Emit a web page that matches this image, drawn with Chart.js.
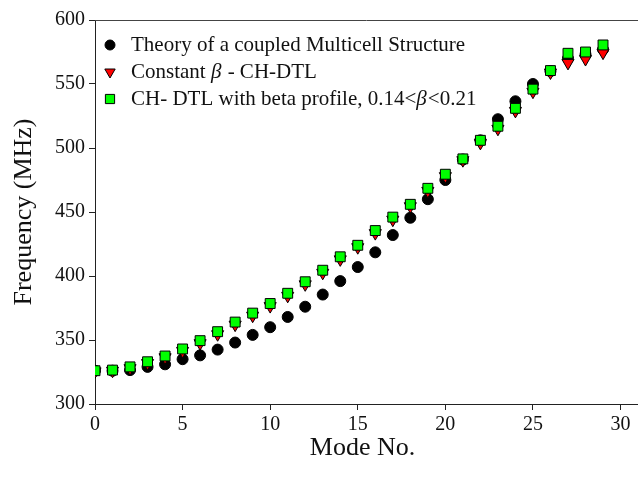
<!DOCTYPE html>
<html>
<head>
<meta charset="utf-8">
<script src="https://cdn.jsdelivr.net/npm/chart.js@4/dist/chart.umd.min.js"></script>
<style>
  html, body { margin: 0; padding: 0; background: #fff; overflow: hidden; }
  canvas { display: block; }
</style>
</head>
<body>
<canvas id="freqChart" width="638" height="483"></canvas>
<script>
// Mode numbers
const modes = [0,1,2,3,4,5,6,7,8,9,10,11,12,13,14,15,16,17,18,19,20,21,22,23,24,25,26,27,28,29];
const xTickValues = [0, 5, 10, 15, 20, 25, 30];

// Theory of a coupled multicell structure (black circles)
const theory = [326,326,326.5,329,331,335,338,342.5,348,354,360,368,376,385.5,396,407,418.5,432,445.5,460,475,491,506,522.5,536.5,550,560,570,573,577];

// Constant beta CH-DTL (red triangles)
const constBeta = [325.5,326,328,332,336.5,341.5,347.5,354.5,362,369,376.5,384.5,393.5,402.5,413,422.5,433.5,444,454.5,466.5,478,490.5,504,515,529,544,559,566.5,569.5,574.5];

// CH-DTL with beta profile (green squares)
const betaProfile = [326,326.5,329,333,337.5,343,349.5,356.5,364,371,378.5,386.5,395.5,404.5,415,424,435.5,446,456,468.5,479.5,491.5,506,517,531,546,560.5,574,575,580.5];

const seriesLabels = [
    'Theory of a coupled Multicell Structure',
    'Constant \u03b2 - CH-DTL',
    'CH- DTL with beta profile, 0.14<\u03b2<0.21'
];

const serif = '"Liberation Serif", "Times New Roman", serif';

function toPoints(vals) {
    return modes.map((m, i) => ({ x: m, y: vals[i] }));
}

// legend drawn inside the plot, plus the frame lines running to the edge
const innerLegend = {
    id: 'innerLegend',
    afterDatasetsDraw(chart) {
        const ctx = chart.ctx;
        const area = chart.chartArea;
        ctx.save();
        ctx.lineWidth = 1;
        ctx.strokeStyle = '#444';
        ctx.beginPath();
        ctx.moveTo(area.left, area.top + 0.5);
        ctx.lineTo(chart.width, area.top + 0.5);
        ctx.stroke();
        ctx.strokeStyle = '#222';
        ctx.beginPath();
        ctx.moveTo(area.right - 1, Math.round(area.bottom) + 0.5);
        ctx.lineTo(chart.width, Math.round(area.bottom) + 0.5);
        ctx.stroke();

        const rows = [45, 72, 99];
        chart.data.datasets.forEach((ds, i) => {
            const y = rows[i];
            ctx.fillStyle = ds.pointBackgroundColor;
            ctx.strokeStyle = ds.pointBorderColor;
            ctx.lineWidth = 1;
            Chart.helpers.drawPoint(ctx, {
                pointStyle: ds.pointStyle,
                radius: ds.legendRadius,
                rotation: ds.pointRotation || 0,
                borderWidth: 1
            }, 110, y);

            // text, with beta in italics
            let x = 131;
            ctx.fillStyle = '#111';
            ctx.textBaseline = 'middle';
            ctx.textAlign = 'left';
            const parts = ds.label.split('\u03b2');
            parts.forEach((p, k) => {
                ctx.font = '21px ' + serif;
                ctx.fillText(p, x, y);
                x += ctx.measureText(p).width;
                if (k < parts.length - 1) {
                    ctx.font = 'italic 21px ' + serif;
                    ctx.fillText('\u03b2', x, y);
                    x += ctx.measureText('\u03b2').width + 1;
                }
            });
        });
        ctx.restore();
    }
};

const ctx = document.getElementById('freqChart');
new Chart(ctx, {
    type: 'scatter',
    data: {
        datasets: [{
            label: seriesLabels[0],
            data: toPoints(theory),
            pointStyle: 'circle',
            pointRadius: 5.5,
            legendRadius: 5,
            pointBackgroundColor: '#000',
            pointBorderColor: '#000',
            pointBorderWidth: 1,
            order: 3
        }, {
            label: seriesLabels[1],
            data: toPoints(constBeta),
            pointStyle: 'triangle',
            pointRotation: 180,
            pointRadius: 7,
            legendRadius: 6,
            pointBackgroundColor: '#ff0000',
            pointBorderColor: '#000',
            pointBorderWidth: 1,
            order: 2
        }, {
            label: seriesLabels[2],
            data: toPoints(betaProfile),
            pointStyle: 'rect',
            pointRadius: 7,
            legendRadius: 6.5,
            pointBackgroundColor: '#00ff00',
            pointBorderColor: '#000',
            pointBorderWidth: 1,
            order: 1
        }]
    },
    options: {
        responsive: false,
        animation: false,
        layout: { padding: { top: 20, left: 0, right: 0, bottom: 0 } },
        plugins: {
            legend: { display: false },
            tooltip: { enabled: false }
        },
        scales: {
            x: {
                type: 'linear',
                min: 0,
                max: 30.54,
                afterBuildTicks: s => { s.ticks = xTickValues.map(v => ({ value: v })); },
                afterFit: s => { s.height = 79; s.paddingRight = 0; },
                ticks: {
                    color: '#111',
                    padding: 3,
                    maxRotation: 0,
                    font: { family: serif, size: 20 }
                },
                grid: {
                    drawOnChartArea: false,
                    drawTicks: true,
                    tickLength: 6,
                    color: '#222'
                },
                border: { display: true, color: '#222', width: 1 },
                title: {
                    display: true,
                    text: 'Mode No.',
                    color: '#111',
                    font: { family: serif, size: 26 },
                    padding: { top: 0, bottom: 19 }
                }
            },
            y: {
                min: 300,
                max: 600,
                afterFit: s => { s.width = 95; },
                ticks: {
                    stepSize: 50,
                    color: '#111',
                    padding: 4,
                    font: { family: serif, size: 20 }
                },
                grid: {
                    drawOnChartArea: false,
                    drawTicks: true,
                    tickLength: 6,
                    color: '#222'
                },
                border: { display: true, color: '#222', width: 1 },
                title: {
                    display: true,
                    text: 'Frequency (MHz)',
                    color: '#111',
                    font: { family: serif, size: 26 },
                    padding: { top: 9, bottom: 0 }
                }
            }
        }
    },
    plugins: [innerLegend]
});
</script>
</body>
</html>
